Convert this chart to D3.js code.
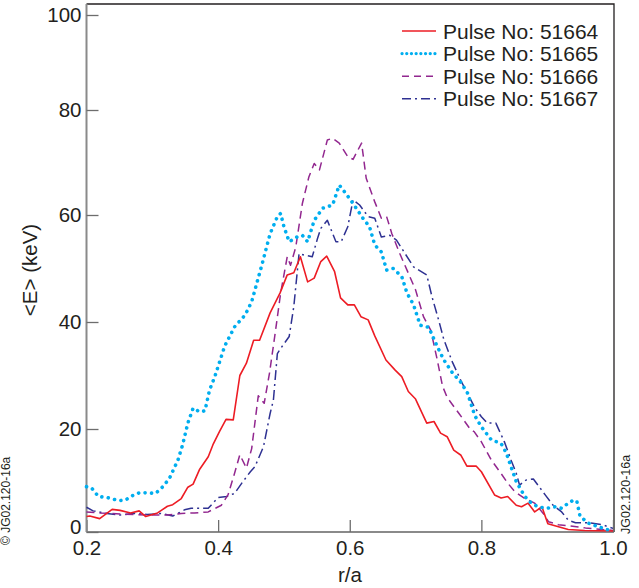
<!DOCTYPE html>
<html lang="en">
  <head>
    <meta charset="utf-8">
    <title>Pulse energy profiles</title>
    <style>
      body { margin: 0; background: #fff; }
      svg { display: block; font-family: "Liberation Sans", Arial, Helvetica, sans-serif; }
    </style>
    <script src="https://cdn.jsdelivr.net/npm/d3@7"></script>
  </head>
  <body>
    <script>

      // [r/a, <E> keV]
      const pulse51664 = [[0.200,3.0],[0.205,3.1],[0.220,2.6],[0.239,4.4],[0.251,4.2],[0.267,3.7],[0.280,4.1],[0.290,3.0],[0.308,3.7],[0.323,5.0],[0.331,5.3],[0.344,6.5],[0.354,8.7],[0.362,9.3],[0.372,12.2],[0.385,14.6],[0.392,16.9],[0.402,19.5],[0.412,21.8],[0.423,21.7],[0.433,30.0],[0.443,32.3],[0.454,36.6],[0.463,36.6],[0.479,41.7],[0.494,45.4],[0.505,48.8],[0.515,49.2],[0.525,52.2],[0.536,47.5],[0.546,48.2],[0.556,51.3],[0.565,52.3],[0.577,49.4],[0.586,44.5],[0.597,43.2],[0.607,43.2],[0.617,41.0],[0.628,40.4],[0.638,37.4],[0.655,32.9],[0.669,31.0],[0.679,29.8],[0.689,27.0],[0.700,25.6],[0.717,21.1],[0.728,21.4],[0.738,19.2],[0.748,18.5],[0.758,15.9],[0.769,14.9],[0.778,12.8],[0.792,12.8],[0.800,11.7],[0.820,7.2],[0.830,6.6],[0.840,6.9],[0.853,5.2],[0.861,4.9],[0.871,5.6],[0.881,3.9],[0.892,4.9],[0.901,1.6],[0.932,0.5],[0.957,0.3],[1.000,0.2]];

      const pulse51665 = [[0.200,8.8],[0.208,8.5],[0.218,6.9],[0.231,6.7],[0.249,6.1],[0.259,6.2],[0.269,7.0],[0.280,7.6],[0.292,7.6],[0.305,7.5],[0.316,8.8],[0.326,10.4],[0.339,14.0],[0.346,16.9],[0.354,21.1],[0.362,23.9],[0.372,23.2],[0.380,23.4],[0.387,27.3],[0.395,29.8],[0.410,35.5],[0.425,39.1],[0.441,41.3],[0.451,43.8],[0.467,50.9],[0.479,56.5],[0.490,59.7],[0.495,60.3],[0.500,57.8],[0.508,55.0],[0.520,55.9],[0.528,56.2],[0.536,55.0],[0.546,59.0],[0.559,61.3],[0.574,61.9],[0.584,65.7],[0.594,64.1],[0.605,62.2],[0.620,59.4],[0.630,57.8],[0.638,54.4],[0.648,53.1],[0.656,49.7],[0.666,50.0],[0.679,48.5],[0.687,45.4],[0.697,43.2],[0.707,39.4],[0.720,39.0],[0.733,35.4],[0.743,32.9],[0.756,30.5],[0.769,28.7],[0.779,26.7],[0.790,22.5],[0.800,20.4],[0.815,17.9],[0.830,17.2],[0.838,15.3],[0.845,12.7],[0.853,9.8],[0.866,6.9],[0.876,5.6],[0.886,4.9],[0.899,4.6],[0.912,4.9],[0.922,4.6],[0.932,5.6],[0.940,6.2],[0.945,6.0],[0.950,3.0],[0.963,1.7],[0.978,1.0],[1.000,0.1]];

      const pulse51666 = [[0.200,3.9],[0.220,3.7],[0.251,3.5],[0.292,3.3],[0.323,3.3],[0.344,3.6],[0.364,3.7],[0.385,3.9],[0.405,5.2],[0.415,7.2],[0.425,11.4],[0.433,15.0],[0.443,12.4],[0.451,16.2],[0.461,26.2],[0.470,24.8],[0.478,30.4],[0.486,37.3],[0.495,45.4],[0.505,52.2],[0.510,50.6],[0.518,54.0],[0.528,62.2],[0.538,67.3],[0.546,69.8],[0.554,68.6],[0.566,74.3],[0.574,74.6],[0.584,73.7],[0.597,71.1],[0.605,70.6],[0.610,71.8],[0.618,73.7],[0.625,67.0],[0.638,62.5],[0.648,59.4],[0.656,59.7],[0.664,56.5],[0.676,52.8],[0.687,49.7],[0.700,46.0],[0.712,41.0],[0.723,38.5],[0.733,32.9],[0.741,28.0],[0.748,25.9],[0.766,22.9],[0.784,19.8],[0.789,19.5],[0.800,17.5],[0.815,14.0],[0.828,11.7],[0.840,9.5],[0.851,7.8],[0.866,6.5],[0.881,5.6],[0.894,3.6],[0.902,2.0],[0.917,1.4],[0.932,1.2],[0.958,0.8],[1.000,0.3]];

      const pulse51667 = [[0.200,4.8],[0.210,4.1],[0.231,3.6],[0.251,3.3],[0.272,3.6],[0.292,3.4],[0.313,3.6],[0.331,3.1],[0.349,4.3],[0.359,4.6],[0.385,4.6],[0.400,6.7],[0.413,6.9],[0.425,7.5],[0.436,9.5],[0.449,11.7],[0.456,12.7],[0.469,16.6],[0.479,22.9],[0.484,25.4],[0.490,34.1],[0.497,35.4],[0.508,37.3],[0.515,42.9],[0.523,52.8],[0.531,52.5],[0.543,52.2],[0.551,55.6],[0.556,57.5],[0.566,59.0],[0.579,55.0],[0.587,55.0],[0.597,57.8],[0.605,62.9],[0.615,61.9],[0.628,59.7],[0.638,59.4],[0.648,55.9],[0.661,56.2],[0.671,55.3],[0.684,52.8],[0.697,50.3],[0.705,49.7],[0.717,48.8],[0.725,44.7],[0.735,40.4],[0.743,36.7],[0.756,32.5],[0.769,29.0],[0.790,24.0],[0.800,22.3],[0.809,21.1],[0.822,21.1],[0.835,17.5],[0.845,14.0],[0.853,11.4],[0.858,9.1],[0.868,10.1],[0.879,10.3],[0.886,9.1],[0.897,7.2],[0.909,5.2],[0.922,3.9],[0.932,2.3],[0.943,1.8],[0.963,1.8],[0.984,1.4],[1.000,0.7]];

      const pulseNames = ['Pulse No: 51664', 'Pulse No: 51665', 'Pulse No: 51666', 'Pulse No: 51667'];
      const xTicks = [0.2, 0.4, 0.6, 0.8, 1.0];
      const yTicks = [0, 20, 40, 60, 80, 100];

      const width = 639, height = 588;
      const plotL = 86.5, plotR = 614, plotT = 4, plotB = 532;

      const series = [
        { name: pulseNames[0], data: pulse51664, color: '#ed1c24', w: 1.6, dash: null, legDash: null },
        { name: pulseNames[1], data: pulse51665, color: '#00aeef', w: 3.6, dash: '0.1 6.4', legDash: '0.1 4.6', cap: 'round' },
        { name: pulseNames[2], data: pulse51666, color: '#92278f', w: 1.5, dash: '8 5', legDash: '7 5' },
        { name: pulseNames[3], data: pulse51667, color: '#2e3192', w: 1.5, dash: '10 4 2 4', legDash: '9 4 2 4' }
      ];

      const svg = d3.select('body').append('svg')
                    .attr('width', width)
                    .attr('height', height);

      const x = d3.scaleLinear().domain([0.2, 1.0]).range([plotL, 613]);
      // the printed axis is not quite even, so map each labelled tick
      const y = d3.scaleLinear().domain(yTicks).range([plotB, 429, 322, 215, 110, 15]);

      // frame
      svg.append('path')
         .attr('d', `M${plotL},${plotT}H${plotR}V${plotB}`)
         .attr('fill', 'none').attr('stroke', '#231f20').attr('stroke-width', 1.3);

      const xAxis = svg.append('g')
        .attr('transform', `translate(0,${plotB})`)
        .call(d3.axisBottom(x).tickValues(xTicks).tickSize(-12).tickPadding(8).tickFormat(d3.format('.1f')));

      const yAxis = svg.append('g')
        .attr('transform', `translate(${plotL},0)`)
        .call(d3.axisLeft(y).tickValues(yTicks).tickSize(-12).tickPadding(5).tickFormat(d3.format('d')));

      [xAxis, yAxis].forEach(g => {
        g.select('.domain').attr('stroke', '#8a8a8a').attr('stroke-width', 2);
        g.selectAll('.tick line').attr('stroke', '#6d6d6d').attr('stroke-width', 1.3);
        g.selectAll('.tick text').attr('fill', '#231f20').style('font-size', '20.5px')
         .style('font-family', '"Liberation Sans", Arial, sans-serif');
      });
      xAxis.select('.domain').attr('d', `M${plotL},0H${plotR}`);
      yAxis.select('.domain').attr('d', `M0,${plotB}V${plotT}`);
      // the zero label sits a little above its tick so it clears 0.2
      yAxis.selectAll('.tick text').filter(d => d === 0).attr('y', -5);

      svg.append('text')
         .attr('x', 350).attr('y', 582)
         .attr('text-anchor', 'middle')
         .attr('fill', '#231f20').style('font-size', '20.5px')
         .text('r/a');

      svg.append('text')
         .attr('transform', 'translate(37,270) rotate(-90)')
         .attr('text-anchor', 'middle')
         .attr('fill', '#231f20').style('font-size', '20.5px')
         .text('<E> (keV)');

      const line = d3.line().x(d => x(d[0])).y(d => y(d[1]));

      const curves = svg.append('g');
      // draw back to front like the original: navy, purple, red, dotted cyan
      [series[3], series[2], series[0], series[1]].forEach(s => {
        curves.append('path')
          .datum(s.data)
          .attr('d', line)
          .attr('fill', 'none')
          .attr('stroke', s.color)
          .attr('stroke-width', s.w)
          .attr('stroke-dasharray', s.dash)
          .attr('stroke-linecap', s.cap || 'butt')
          .attr('stroke-linejoin', 'round');
      });

      // legend
      const legend = svg.append('g').attr('transform', 'translate(402,31)');
      const rows = legend.selectAll('g').data(series).enter().append('g')
        .attr('transform', (d, i) => `translate(0,${i * 22.6})`);
      rows.append('line')
        .attr('x1', 0).attr('x2', 34).attr('y1', 0).attr('y2', 0)
        .attr('stroke', d => d.color)
        .attr('stroke-width', d => d.cap ? 3.2 : 1.5)
        .attr('stroke-dasharray', d => d.legDash)
        .attr('stroke-linecap', d => d.cap || 'butt');
      rows.append('text')
        .attr('x', 41).attr('y', 7.5)
        .attr('fill', '#231f20').style('font-size', '21px')
        .text(d => d.name);

      // figure reference codes at the edges
      svg.append('text')
         .attr('transform', 'translate(630,534) rotate(-90)')
         .attr('fill', '#231f20').style('font-size', '12.5px')
         .text('JG02.120-16a');

      svg.append('text')
         .attr('transform', 'translate(10,545) rotate(-90)')
         .attr('fill', '#231f20').style('font-size', '12px')
         .text('\u00a9 JG02.120-16a');

    </script>
  </body>
</html>
